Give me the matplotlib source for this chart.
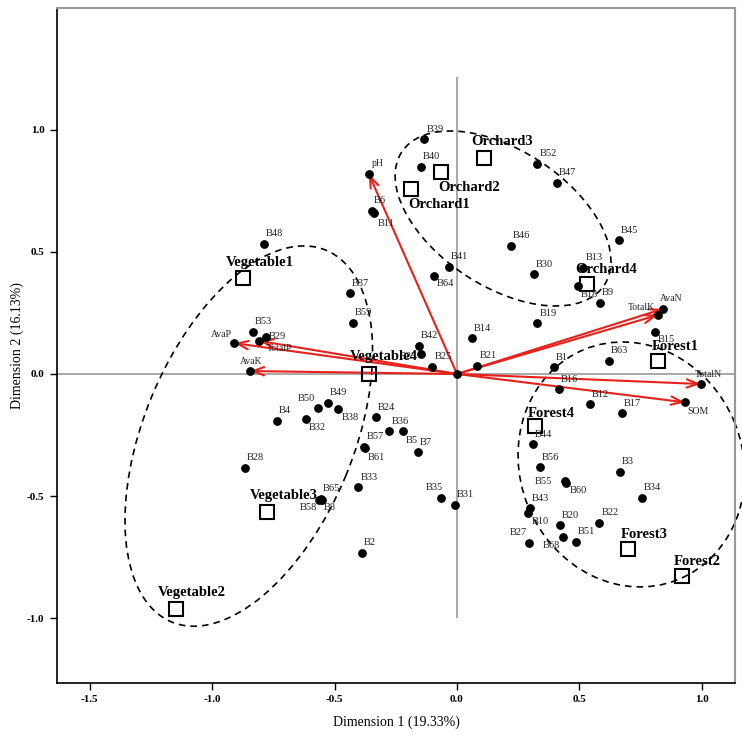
import matplotlib
matplotlib.use("Agg")
import matplotlib.pyplot as plt
from matplotlib.patches import Ellipse

plt.rcParams['font.family'] = ['Liberation Serif', 'DejaVu Serif']

# sample points (object scores)
site_names = ['B39', 'B40', 'B52', 'B47', 'B45', 'B46', 'B6', 'B11', 'B48', 'B37',
              'B59', 'B41', 'B64', 'B53', 'B29', 'B50', 'B49', 'B38', 'B4', 'B32',
              'B24', 'B36', 'B5', 'B7', 'B57', 'B61', 'B33', 'B65', 'B58', 'B8',
              'B28', 'B2', 'B30', 'B13', 'B18', 'B9', 'B15', 'B19', 'B14', 'B42',
              'B23', 'B25', 'B21', 'B1', 'B63', 'B16', 'B12', 'B17', 'B44', 'B56',
              'B55', 'B60', 'B3', 'B34', 'B43', 'B10', 'B20', 'B22', 'B51', 'B68',
              'B27', 'B35', 'B31']
site_x = [-0.133, -0.148, 0.328, 0.409, 0.662, 0.220, -0.348, -0.339, -0.788, -0.437,
          -0.424, -0.034, -0.094, -0.834, -0.781, -0.566, -0.528, -0.484, -0.736, -0.616,
          -0.331, -0.276, -0.222, -0.160, -0.378, -0.376, -0.403, -0.556, -0.565, -0.551,
          -0.865, -0.388, 0.313, 0.516, 0.493, 0.582, 0.808, 0.328, 0.062, -0.155,
          -0.148, -0.101, 0.083, 0.396, 0.619, 0.416, 0.543, 0.673, 0.309, 0.339,
          0.441, 0.447, 0.665, 0.755, 0.298, 0.289, 0.420, 0.581, 0.486, 0.434,
          0.293, -0.067, -0.008]
site_y = [0.960, 0.848, 0.859, 0.782, 0.548, 0.525, 0.668, 0.658, 0.532, 0.331,
          0.209, 0.439, 0.401, 0.173, 0.153, -0.138, -0.117, -0.143, -0.191, -0.183,
          -0.177, -0.234, -0.234, -0.320, -0.297, -0.303, -0.463, -0.510, -0.515, -0.515,
          -0.383, -0.731, 0.408, 0.435, 0.361, 0.292, 0.173, 0.207, 0.146, 0.116,
          0.083, 0.030, 0.033, 0.027, 0.054, -0.063, -0.124, -0.161, -0.288, -0.382,
          -0.436, -0.444, -0.400, -0.506, -0.549, -0.567, -0.618, -0.608, -0.686, -0.665,
          -0.690, -0.507, -0.535]

# soil variables (arrows)
var_names = ['pH', 'AvaP', 'TotalP', 'AvaK', 'AvaN', 'TotalK', 'TotalN', 'SOM']
var_x = [-0.360, -0.909, -0.807, -0.845, 0.840, 0.819, 0.995, 0.931]
var_y = [0.818, 0.126, 0.135, 0.012, 0.266, 0.241, -0.041, -0.116]

# land-use group centroids
group_names = ['Vegetable1', 'Vegetable2', 'Vegetable3', 'Vegetable4',
               'Orchard1', 'Orchard2', 'Orchard3', 'Orchard4',
               'Forest1', 'Forest2', 'Forest3', 'Forest4']
group_x = [-0.872, -1.147, -0.777, -0.358, -0.189, -0.067, 0.112, 0.532,
           0.819, 0.917, 0.698, 0.318]
group_y = [0.391, -0.961, -0.563, 0.000, 0.755, 0.827, 0.885, 0.367,
           0.053, -0.826, -0.717, -0.213]

# label placement (pixels), default is upper right of the dot
site_off = {'B11': ('left', 4, -10), 'B64': ('left', 3, -8), 'B29': ('left', 3, 0),
            'B50': ('right', -3, 9), 'B38': ('left', 3, -9), 'B32': ('left', 3, -9),
            'B5': ('left', 3, -9), 'B61': ('left', 3, -9), 'B58': ('right', -2, -8),
            'B8': ('left', 2, -8), 'B18': ('left', 3, -9), 'B15': ('left', 3, -8),
            'B55': ('right', -13, -1), 'B60': ('left', 3, -8), 'B10': ('left', 4, -9),
            'B68': ('right', -3, -9), 'B27': ('right', -2, 10), 'B35': ('center', -6, 10),
            'B23': ('right', -4, -3)}
var_off = {'pH': ('left', 3, 10), 'AvaP': ('right', -2, 9), 'TotalP': ('left', 7, -8),
           'AvaK': ('center', 1, 10), 'AvaN': ('left', -3, 10), 'TotalK': ('right', -3, 8),
           'TotalN': ('left', -6, 10), 'SOM': ('left', 2, -9)}
group_off = {'Vegetable1': (-18, 16), 'Vegetable2': (-18, 16), 'Vegetable3': (-17, 16),
             'Vegetable4': (-19, 17), 'Orchard1': (-2, -15), 'Orchard2': (-2, -16),
             'Orchard3': (-13, 16), 'Orchard4': (-12, 15), 'Forest1': (-6, 15),
             'Forest2': (-8, 14), 'Forest3': (-7, 15), 'Forest4': (-7, 13)}

fig = plt.figure(figsize=(7.42, 7.37), dpi=100)
ax = fig.add_axes([57/742, 1-683/737, 678/742, 675/737])
ax.set_xlim(-1.633, 1.135)
ax.set_ylim(-1.264, 1.497)

# reference lines
ax.axhline(0, color='#999999', lw=1.2, zorder=1)
ax.vlines(0, -1.0, 1.215, color='#999999', lw=1.2, zorder=1)

# dashed group ellipses
for c, w, h, a in [((-0.85, -0.254), 1.646, 0.856, 67.5),
                   ((0.188, 0.636), 0.99, 0.556, -33.4),
                   ((0.712, -0.37), 1.016, 0.91, 112)]:
    e = Ellipse(c, w, h, angle=a, fill=False, ec='black', lw=1.2,
                ls=(0, (4, 3)), zorder=2, clip_on=False)
    ax.add_patch(e)

# arrows
for n, x, y in zip(var_names, var_x, var_y):
    ax.annotate('', xy=(x, y), xytext=(0, 0),
                arrowprops=dict(arrowstyle='->,head_length=0.8,head_width=0.3',
                                color='#e8211b', lw=1.5, shrinkA=0, shrinkB=0),
                zorder=3)
ax.scatter(var_x, var_y, s=28, color='black', zorder=4)
ax.scatter([0], [0], s=28, color='black', zorder=4)
for n, x, y in zip(var_names, var_x, var_y):
    ha, dx, dy = var_off[n]
    ax.annotate(n, (x, y), xytext=(dx, dy), textcoords='offset pixels',
                ha=ha, va='center', fontsize=7, color='#222222', zorder=6)

# sample points
ax.scatter(site_x, site_y, s=28, color='black', zorder=4)
for n, x, y in zip(site_names, site_x, site_y):
    ha, dx, dy = site_off.get(n, ('left', 2, 10))
    ax.annotate(n, (x, y), xytext=(dx, dy), textcoords='offset pixels',
                ha=ha, va='center', fontsize=7.5, color='#222222', zorder=6)

# group centroids
ax.plot(group_x, group_y, 's', ms=10, mfc='none', mec='black', mew=1.5,
        ls='none', zorder=5)
for n, x, y in zip(group_names, group_x, group_y):
    dx, dy = group_off[n]
    ax.annotate(n, (x, y), xytext=(dx, dy), textcoords='offset pixels',
                ha='left', va='center', fontsize=10.5, fontweight='bold', zorder=6)

ax.set_xticks([-1.5, -1.0, -0.5, 0.0, 0.5, 1.0])
ax.set_yticks([-1.0, -0.5, 0.0, 0.5, 1.0])
ax.set_xticklabels(['-1.5', '-1.0', '-0.5', '0.0', '0.5', '1.0'], fontsize=8, fontweight='bold')
ax.set_yticklabels(['-1.0', '-0.5', '0.0', '0.5', '1.0'], fontsize=8, fontweight='bold')
ax.tick_params(direction='out', length=5, width=1, pad=4)
ax.set_xlabel('Dimension 1 (19.33%)', fontsize=10, labelpad=8)
ax.set_ylabel('Dimension 2 (16.13%)', fontsize=10, labelpad=2)
for s in ['top', 'right']:
    ax.spines[s].set_color('#999999')
    ax.spines[s].set_linewidth(1.5)
for s in ['left', 'bottom']:
    ax.spines[s].set_linewidth(1.2)

fig.savefig('out.png', dpi=100)
